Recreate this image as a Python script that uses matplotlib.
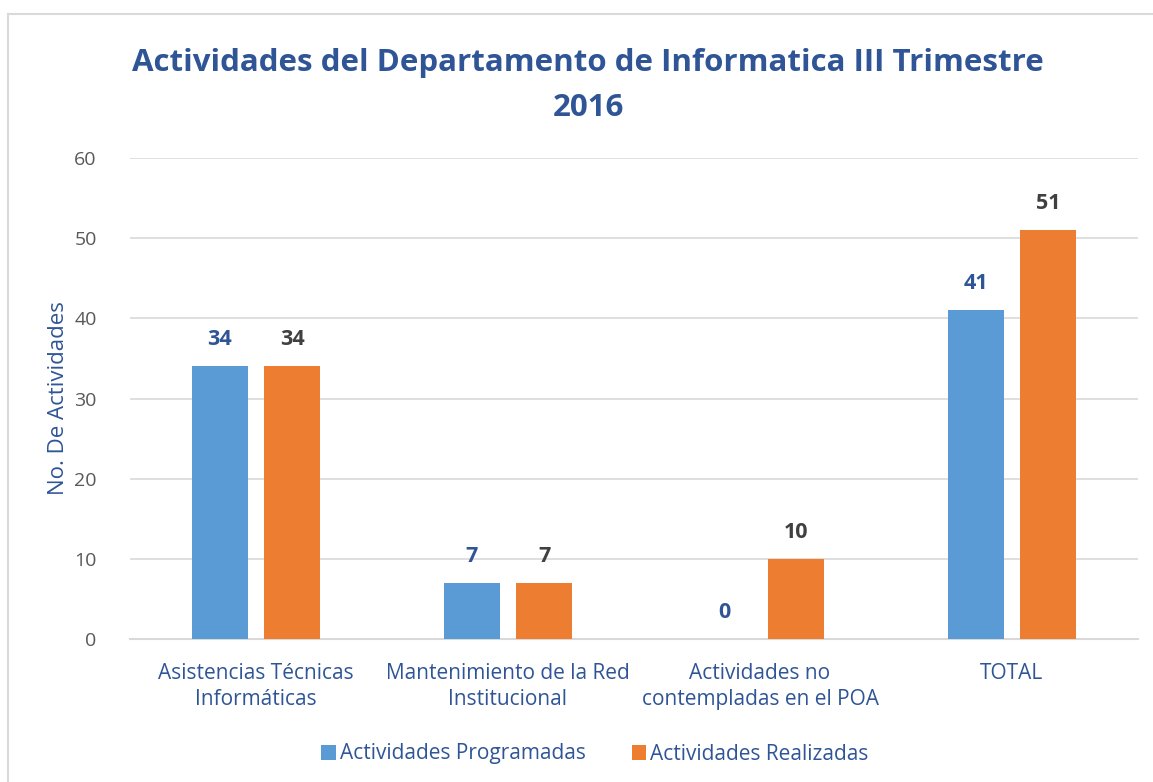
import matplotlib
matplotlib.use("Agg")
import matplotlib.pyplot as plt
import numpy as np
from matplotlib.lines import Line2D

categories = ["Asistencias Técnicas\nInformáticas", "Mantenimiento de la Red\nInstitucional",
              "Actividades no\ncontempladas en el POA", "TOTAL"]
programadas = [34, 7, 0, 41]
realizadas = [34, 7, 10, 51]
series_names = ["Actividades Programadas", "Actividades Realizadas"]
title = "Actividades del Departamento de Informatica III Trimestre\n2016"
ylabel = "No. De Actividades"
yticks = [0, 10, 20, 30, 40, 50, 60]

FONT = ["Open Sans", "DejaVu Sans"]
plt.rcParams['font.family'] = FONT

BLUE = "#5B9BD5"
ORANGE = "#ED7D31"
DARKBLUE = "#2F5597"
GRAY = "#595959"
LABELGRAY = "#404040"

W, H = 1153, 782
fig = plt.figure(figsize=(W / 100, H / 100), dpi=100)
ax = fig.add_axes([130 / W, 1 - 639 / H, (1138 - 130) / W, (639 - 158) / H])

x = np.arange(len(categories))
bw = 0.222
off = 0.143
b1 = ax.bar(x - off, programadas, bw, color=BLUE, label=series_names[0], zorder=3)
b2 = ax.bar(x + off, realizadas, bw, color=ORANGE, label=series_names[1], zorder=3)

for xi, v in zip(x, programadas):
    ax.text(xi - off, v + 3.3, str(v), ha="center", va="center", fontsize=15.5,
            fontweight="bold", color=DARKBLUE)
for xi, v in zip(x, realizadas):
    ax.text(xi + off, v + 3.3, str(v), ha="center", va="center", fontsize=15.5,
            fontweight="bold", color=LABELGRAY)

ax.set_xlim(-0.5, len(categories) - 0.5)
ax.set_ylim(0, 60)
ax.set_yticks(yticks)
ax.set_yticklabels([str(t) for t in yticks], fontsize=14, color=GRAY)
ax.set_xticks(x)
ax.set_xticklabels(categories, fontsize=15, color=DARKBLUE, linespacing=1.35)
ax.tick_params(axis="both", length=0)
ax.tick_params(axis="y", pad=24)
ax.tick_params(axis="x", pad=17)
ax.grid(axis="y", color="#D9D9D9", linewidth=1.2, zorder=0)
for s in ["top", "right", "left"]:
    ax.spines[s].set_visible(False)
ax.spines["bottom"].set_color("#D9D9D9")
ax.spines["bottom"].set_linewidth(1.5)
ax.set_ylabel(ylabel, fontsize=16, color=DARKBLUE, labelpad=4)

fig.text(588 / W, 1 - 85.5 / H, title, ha="center", va="center", fontsize=22.5,
         fontweight="bold", color=DARKBLUE, linespacing=1.68)

leg = fig.legend(handles=[b1, b2], labels=series_names, loc="center",
                 bbox_to_anchor=(595 / W, 1 - 754 / H), ncol=2, frameon=False,
                 fontsize=15, handlelength=0.7, handleheight=0.7, handletextpad=0.2,
                 columnspacing=2.2)
for t in leg.get_texts():
    t.set_color(DARKBLUE)

# chart border (top and left visible)
fig.add_artist(Line2D([8 / W, 1.0], [1 - 14 / H, 1 - 14 / H], color="#D9D9D9", linewidth=1.5,
                      transform=fig.transFigure))
fig.add_artist(Line2D([8 / W, 8 / W], [0, 1 - 14 / H], color="#D9D9D9", linewidth=1.5,
                      transform=fig.transFigure))

fig.savefig("out.png", dpi=100, facecolor="white")
